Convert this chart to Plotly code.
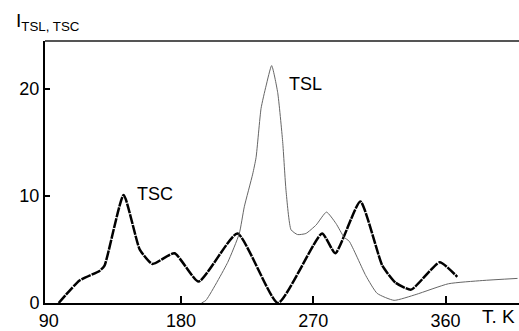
import plotly.graph_objects as go

tsc_T = [96.8, 111, 124.6, 128, 141, 152, 160.6, 175.6, 192, 218.4, 246, 276, 285, 302, 317, 326, 336.6, 356, 368]
tsc_I = [0.0, 2.1, 3.0, 3.5, 10.1, 5.0, 3.65, 4.65, 2.0, 6.5, 0.0, 6.5, 4.65, 9.5, 3.5, 1.9, 1.25, 3.8, 2.45]

tsl_T = [194, 197, 211.8, 219.7, 223.1, 228.8, 231.1, 234.5, 237.9, 241.7, 245.8, 249.2, 251.5, 254.9,
         259.3, 265, 272, 279, 285.4, 291, 294.5, 305.8, 313.5, 325, 340, 362, 385, 409]
tsl_I = [0.0, 0.25, 3.8, 6.5, 9.0, 12.05, 13.6, 18.2, 20.3, 22.2, 19.7, 15.1, 10.5, 6.85,
         6.4, 6.5, 7.3, 8.5, 7.45, 6.15, 5.77, 2.55, 0.9, 0.25, 0.8, 1.8, 2.1, 2.3]

x_labels = [90, 180, 270, 360]
x_tick_marks = [180, 270, 360]
y_ticks = [0, 10, 20]

font = "Liberation Sans, Arial, sans-serif"
XR = [87.5, 410]

fig = go.Figure()
fig.add_trace(go.Scatter(x=tsl_T, y=tsl_I, mode="lines", xaxis="x2",
                         line=dict(color="#666666", width=1, shape="spline", smoothing=0.5), showlegend=False))
fig.add_trace(go.Scatter(x=tsc_T, y=tsc_I, mode="lines",
                         line=dict(color="black", width=2.5, dash="10px,1px", shape="spline", smoothing=0.5),
                         showlegend=False))

fig.update_layout(
    width=519, height=331,
    margin=dict(l=45, r=0, t=41, b=23),
    plot_bgcolor="white", paper_bgcolor="white",
    font=dict(family=font, size=18, color="black"),
    xaxis=dict(range=XR, tickvals=x_labels, ticktext=[str(v) for v in x_labels],
               ticks="", showline=True, linecolor="black", linewidth=2, showgrid=False, zeroline=False,
               tickfont=dict(size=18)),
    xaxis2=dict(range=XR, overlaying="x", side="bottom", tickvals=x_tick_marks, showticklabels=False,
                ticks="inside", ticklen=7, tickwidth=2, tickcolor="black",
                showline=False, showgrid=False, zeroline=False),
    yaxis=dict(range=[0, 24.5], tickvals=y_ticks, ticktext=[str(v) for v in y_ticks],
               ticks="inside", ticklen=5, tickwidth=2, tickcolor="black",
               showline=True, linecolor="black", linewidth=2, showgrid=False, zeroline=False,
               tickfont=dict(size=18)),
    shapes=[dict(type="line", xref="paper", yref="paper", x0=0, x1=1, y0=1, y1=1,
                 line=dict(color="#555555", width=2))],
    annotations=[
        dict(text="I<sub>TSL, TSC</sub>", xref="paper", yref="paper", x=-0.066, y=1.071,
             xanchor="left", yanchor="middle", showarrow=False, font=dict(size=19)),
        dict(text="TSC", x=149, y=10.2, xref="x", yref="y", xanchor="left", yanchor="middle",
             showarrow=False, font=dict(size=18)),
        dict(text="TSL", x=252.3, y=20.5, xref="x", yref="y", xanchor="left", yanchor="middle",
             showarrow=False, font=dict(size=18)),
        dict(text="T. K", xref="paper", yref="paper", x=0.996, y=-0.052, xanchor="right",
             yanchor="middle", showarrow=False, font=dict(size=19)),
    ],
)

fig.write_html("out.html",
               config={"displayModeBar": False},
               post_script="document.body.style.margin='0';document.body.style.overflow='hidden';")
